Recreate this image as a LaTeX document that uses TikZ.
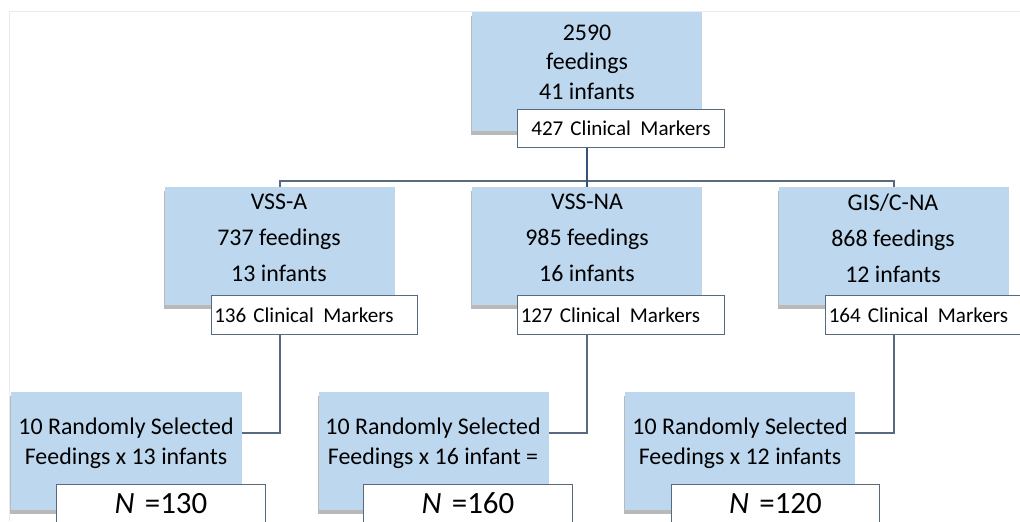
\documentclass[tikz,border=0pt]{standalone}
\usepackage{fontspec}
\setmainfont{Carlito}
\usetikzlibrary{shadows}
\definecolor{boxblue}{HTML}{BDD7EE}
\definecolor{linkgray}{RGB}{88,106,128}
\definecolor{linkblue}{RGB}{52,82,122}
\definecolor{framegray}{RGB}{232,235,240}
\newcommand{\cm}{Clinical\ \hspace{0.12em}Markers}
\begin{document}
\begin{tikzpicture}[x=0.025cm, y=-0.025cm]
			\tikzset{bluebox/.style={rectangle, fill=boxblue, minimum width=5.75cm, minimum height=2.95cm, inner sep=0pt,
					drop shadow={shadow xshift=-0.8pt, shadow yshift=-3pt, fill=black!55, opacity=.5}}};
			\tikzset{markbox/.style={rectangle, draw=linkgray, fill=white, line width=0.7pt, minimum width=5.15cm, minimum height=0.97cm,
					inner xsep=2pt, text width=5.15cm-4pt, font=\fontsize{15}{18}\selectfont}};
			\tikzset{nbox/.style={markbox, align=center, minimum width=5.2cm, text width=5.2cm-4pt, font=\fontsize{22}{26}\selectfont}};
			\tikzset{txt/.style={align=center, inner sep=0pt, font=\fontsize{17}{21}\selectfont}};
			\tikzset{link/.style={draw=linkgray, line width=1.1pt}};
			\useasboundingbox (0,0) rectangle (1020,521);
			\draw[framegray, line width=0.6pt] (9,521) -- (9,11) -- (1020,11);

			% blue boxes
			\node[bluebox, minimum height=2.975cm] (0) at (587,71.5) {};
			\node[bluebox] (1) at (280,246) {};
			\node[bluebox] (2) at (587,246) {};
			\node[bluebox] (3) at (894,246) {};
			\node[bluebox] (r1) at (126.5,451) {};
			\node[bluebox] (r2) at (434,451) {};
			\node[bluebox] (r3) at (740,451) {};

			\node[txt] (t0) at (587,62) {2590\\feedings\\41 infants};
			\node[txt, font=\fontsize{17}{25.5}\selectfont] (t1) at (279,238) {VSS-A\\737 feedings\\13 infants};
			\node[txt, font=\fontsize{17}{25.5}\selectfont] (t2) at (587,238) {VSS-NA\\985 feedings\\16 infants};
			\node[txt, font=\fontsize{17}{25.5}\selectfont] (t3) at (893,238) {GIS/C-NA\\868 feedings\\12 infants};
			\node[txt] (s1) at (126,443) {10 Randomly Selected\\Feedings x 13 infants};
			\node[txt] (s2) at (433,443) {10 Randomly Selected\\Feedings x 16 infant =};
			\node[txt] (s3) at (740,443) {10 Randomly Selected\\Feedings x 12 infants};

			% white boxes
			\node[markbox, align=center] (m0) at (621,128.5) {427 \cm};
			\node[markbox, align=left] (m1) at (314.5,315) {136 \cm};
			\node[markbox, align=left] (m2) at (621,315) {127 \cm};
			\node[markbox, align=left] (m3) at (929,315) {164 \cm};
			\node[nbox] (n1) at (161,503.5) {\textit{N}~=130};
			\node[nbox] (n2) at (468,503.5) {\textit{N}~=160};
			\node[nbox] (n3) at (775.5,503.5) {\textit{N}~=120};

			\coordinate (bus) at (587,181);

			\draw[link] (1.north) |- (bus) -| (3.north);
			\draw[link, draw=linkblue] (m0.south -| 2.north) -- (2.north);
			\draw[link] (m1.south -| 1.north) |- ([yshift=0.45cm]r1.east);
			\draw[link] (m2.south -| 2.north) |- ([yshift=0.45cm]r2.east);
			\draw[link] (m3.south -| 3.north) |- ([yshift=0.45cm]r3.east);
		\end{tikzpicture}
\end{document}
